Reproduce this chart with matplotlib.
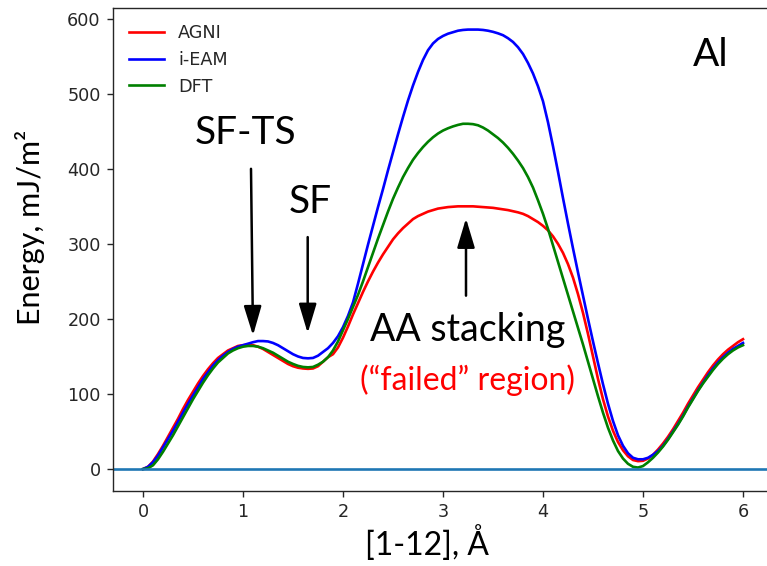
import matplotlib
matplotlib.use("Agg")
import matplotlib.pyplot as plt

# ---- data, x in steps of 0.05 A ----
x = [round(0.05 * i, 2) for i in range(121)]

agni = [0, 3, 10, 20, 31, 43, 55, 67, 80, 92,
        103, 114, 124, 133, 141, 148, 153, 158, 161, 164,
        165, 165.5, 165, 163, 160, 156, 152, 148, 144, 140,
        137, 135, 134, 133.5, 134, 137, 143, 149, 153, 162,
        175, 190, 206, 221, 236, 250, 263, 275, 286, 296,
        306, 314, 321, 327, 333, 337, 340, 343, 345, 347,
        348, 349, 349.5, 350, 350, 350, 350, 349.5, 349, 348.5,
        348, 347, 346, 345, 343.5, 342, 340, 337, 333, 329,
        324, 318, 310, 300, 288, 273, 255, 233, 208, 180,
        150, 120, 93, 70, 51, 36, 25, 17, 12, 10.5,
        11, 14, 19, 26, 34, 43, 53, 64, 75, 87,
        98, 109, 119, 129, 138, 146, 153, 159, 164, 169,
        173]

ieam = [0, 3, 9, 18, 29, 40, 51, 63, 75, 87,
        98, 109, 120, 129, 138, 145, 151, 156, 160, 163,
        165, 167, 169, 170.5, 170.5, 170, 168, 165, 161, 157,
        153, 150, 148, 147.5, 148, 151, 156, 161, 168, 177,
        189, 204, 222, 247, 273, 299, 324, 349, 373, 398,
        422, 446, 469, 491, 511, 529, 545, 558, 567, 573,
        577, 580, 582, 584, 585, 585.5, 585.5, 585.5, 585, 584,
        582.5, 580.5, 578, 574, 569, 562, 553, 541, 527, 510,
        490, 462, 430, 396, 361, 327, 294, 262, 231, 200,
        170, 141, 113, 87, 64, 45, 31, 21, 15, 13,
        13, 15, 19, 24, 31, 40, 50, 60, 71, 83,
        94, 105, 115, 125, 134, 142, 149, 155, 160, 164,
        168]

dft = [0, 1, 5, 13, 23, 34, 45, 57, 69, 81,
       93, 104, 115, 125, 134, 142, 148, 154, 158, 161,
       163, 164, 164, 163, 161, 158, 155, 151, 147, 143,
       140, 137.5, 136, 135.5, 136, 139, 143, 149, 158, 170,
       185, 200, 216, 232, 250, 269, 288, 307, 325, 343,
       360, 375, 389, 401, 412, 421, 429, 436, 442, 447,
       451, 454, 456.5, 458.5, 460, 460, 459.5, 458, 455, 451,
       446, 441, 435, 428, 420, 411, 401, 389, 375, 358,
       340, 320, 298, 276, 254, 232, 210, 188, 166, 143,
       120, 97, 75, 55, 38, 24, 14, 7, 3, 2,
       4, 9, 15, 22, 30, 39, 49, 59, 70, 82,
       93, 104, 114, 123, 132, 140, 147, 153, 158, 162,
       165]

series_labels = ["AGNI", "i-EAM", "DFT"]
series_colors = ["red", "blue", "green"]

W, H = 767, 566
fig = plt.figure(figsize=(W / 100, H / 100), dpi=100)
# axes extends past the right edge (reference is cropped there)
left, right, top, bottom = 113, 773, 8, 491
ax = fig.add_axes([left / W, 1 - bottom / H, (right - left) / W, (bottom - top) / H])

lw = 1.9
for ys, lab, col in zip([agni, ieam, dft], series_labels, series_colors):
    ax.plot(x, ys, color=col, lw=lw, label=lab, solid_joinstyle="round")
ax.axhline(0, color="#1f77b4", lw=lw)

ax.set_xlim(-0.3, 6.3)
ax.set_ylim(-29.25, 614.25)
ax.set_xticks([0, 1, 2, 3, 4, 5, 6])
ax.set_yticks([0, 100, 200, 300, 400, 500, 600])
ax.tick_params(labelsize=12.7, length=4.45, width=1.0, pad=4.45, colors="#262626")
for sp in ax.spines.values():
    sp.set_linewidth(1.0)
    sp.set_color("#262626")

leg = ax.legend(loc="upper left", frameon=False, fontsize=12.7)
for t in leg.get_texts():
    t.set_color("#262626")

tf = "Lato"
# annotations
ax.text(1.03, 448, "SF-TS", fontsize=28, family=tf, ha="center", va="center")
ax.text(1.67, 356, "SF", fontsize=28, family=tf, ha="center", va="center")
ax.text(3.25, 185, "AA stacking", fontsize=27, family=tf, ha="center", va="center")
ax.text(3.25, 118, "(\u201cfailed\u201d region)", fontsize=23, family=tf,
        ha="center", va="center", color="red")
ax.text(5.68, 551, "Al", fontsize=28, family=tf, ha="center", va="center")

ap = dict(arrowstyle="-|>,head_length=0.9,head_width=0.27", color="black",
          lw=1.8, mutation_scale=20, shrinkA=0, shrinkB=0)
ax.annotate("", xy=(1.10, 178), xytext=(1.08, 400), arrowprops=ap)
ax.annotate("", xy=(1.647, 181), xytext=(1.647, 309), arrowprops=ap)
ax.annotate("", xy=(3.23, 334), xytext=(3.23, 231), arrowprops=ap)

fig.text(30 / W, 1 - 227 / H, "Energy, mJ/m\u00b2", rotation=90, fontsize=22,
         family=[tf, "DejaVu Sans"], ha="center", va="center")
fig.text(427 / W, 1 - 543 / H, "[1-12], \u00c5", fontsize=23, family=tf,
         ha="center", va="center")

fig.savefig("out.png", dpi=100)
